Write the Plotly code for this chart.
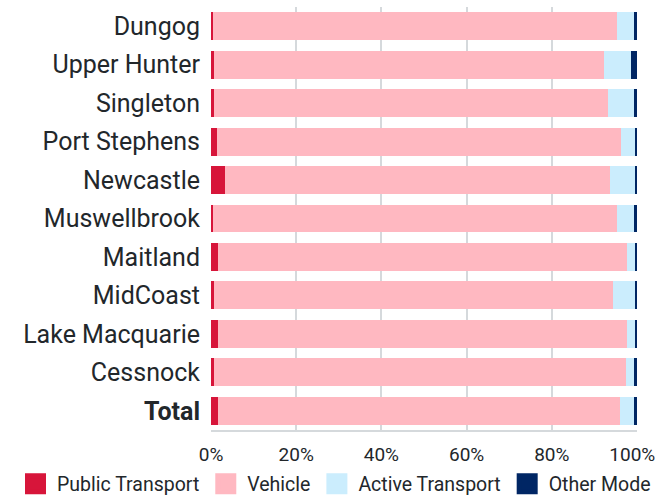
import plotly.graph_objects as go

categories = ["Dungog", "Upper Hunter", "Singleton", "Port Stephens", "Newcastle",
              "Muswellbrook", "Maitland", "MidCoast", "Lake Macquarie", "Cessnock", "Total"]
public_transport = [0.5, 0.8, 0.8, 1.3, 3.3, 0.5, 1.7, 0.8, 1.7, 0.8, 1.7]
vehicle = [94.9, 91.5, 92.4, 95.0, 90.4, 94.9, 96.0, 93.6, 96.0, 96.7, 94.4]
active_transport = [4.0, 6.4, 6.0, 3.3, 5.8, 4.0, 1.9, 5.2, 1.9, 1.9, 3.3]
other_mode = [0.6, 1.3, 0.8, 0.4, 0.5, 0.6, 0.4, 0.4, 0.4, 0.6, 0.6]
tick_labels = [c if c != "Total" else "<b>Total</b>" for c in categories]
x_ticks = [0, 20, 40, 60, 80, 100]
# last label nudged left so it stays inside the picture, like the original
x_tick_labels = [f"{v}%" if v < 100 else f"{v}%" + "\u00a0" * 2 for v in x_ticks]

series = [
    ("Public Transport", public_transport, "#d7153a"),
    ("Vehicle", vehicle, "#ffb8c1"),
    ("Active Transport", active_transport, "#cbedfd"),
    ("Other Mode", other_mode, "#002664"),
]

FONT = "Roboto"
TEXT = "#22272b"
GRID = "#d5d9dc"

W, H = 667, 496
ML, MR, MT, MB = 211, 30, 7, 66
PW, PH = W - ML - MR, H - MT - MB

fig = go.Figure()
for name, vals, col in series:
    fig.add_trace(go.Bar(
        y=categories, x=vals, name=name, orientation="h",
        marker=dict(color=col, line=dict(width=0)),
        showlegend=False, legendgroup=name,
    ))
# legend entries (no data) with larger square swatches
for name, vals, col in series:
    fig.add_trace(go.Scatter(
        x=[None], y=[None], mode="markers", name=name, legendgroup=name,
        marker=dict(symbol="square", size=16, color=col, line=dict(color=col, width=5)),
        showlegend=True, hoverinfo="skip",
    ))

legend_left = 14
legend_mid = 484

fig.update_layout(
    width=W, height=H,
    barmode="stack", bargap=0.273,
    margin=dict(l=ML, r=MR, t=MT, b=MB, autoexpand=False),
    paper_bgcolor="white", plot_bgcolor="white",
    font=dict(family=FONT, color=TEXT, size=19),
    legend=dict(
        orientation="h", xref="paper", yref="paper",
        x=(legend_left - ML) / PW, xanchor="left",
        y=(H - MB - legend_mid) / PH, yanchor="middle",
        font=dict(size=19.5, color=TEXT, family=FONT),
        itemclick=False, itemdoubleclick=False, itemwidth=33,
        traceorder="normal", borderwidth=0,
    ),
    xaxis=dict(
        range=[0, 100], tickvals=x_ticks, ticktext=x_tick_labels,
        showgrid=True, gridcolor=GRID, gridwidth=2,
        showline=True, linecolor=GRID, linewidth=2,
        zeroline=False, ticks="", ticklabelstandoff=6,
        ticklabeloverflow="allow",
        tickfont=dict(size=19, color=TEXT, family=FONT),
        fixedrange=True,
    ),
    yaxis=dict(
        categoryorder="array", categoryarray=categories,
        autorange="reversed",
        tickvals=categories, ticktext=tick_labels,
        showgrid=False, showline=False, zeroline=False,
        ticks="", ticklabelstandoff=10,
        tickfont=dict(size=25, color=TEXT, family=FONT),
        fixedrange=True,
    ),
)

fig.write_html(
    "out.html",
    config={"displayModeBar": False},
    post_script="document.body.style.margin='0';document.body.style.overflow='hidden';",
)
